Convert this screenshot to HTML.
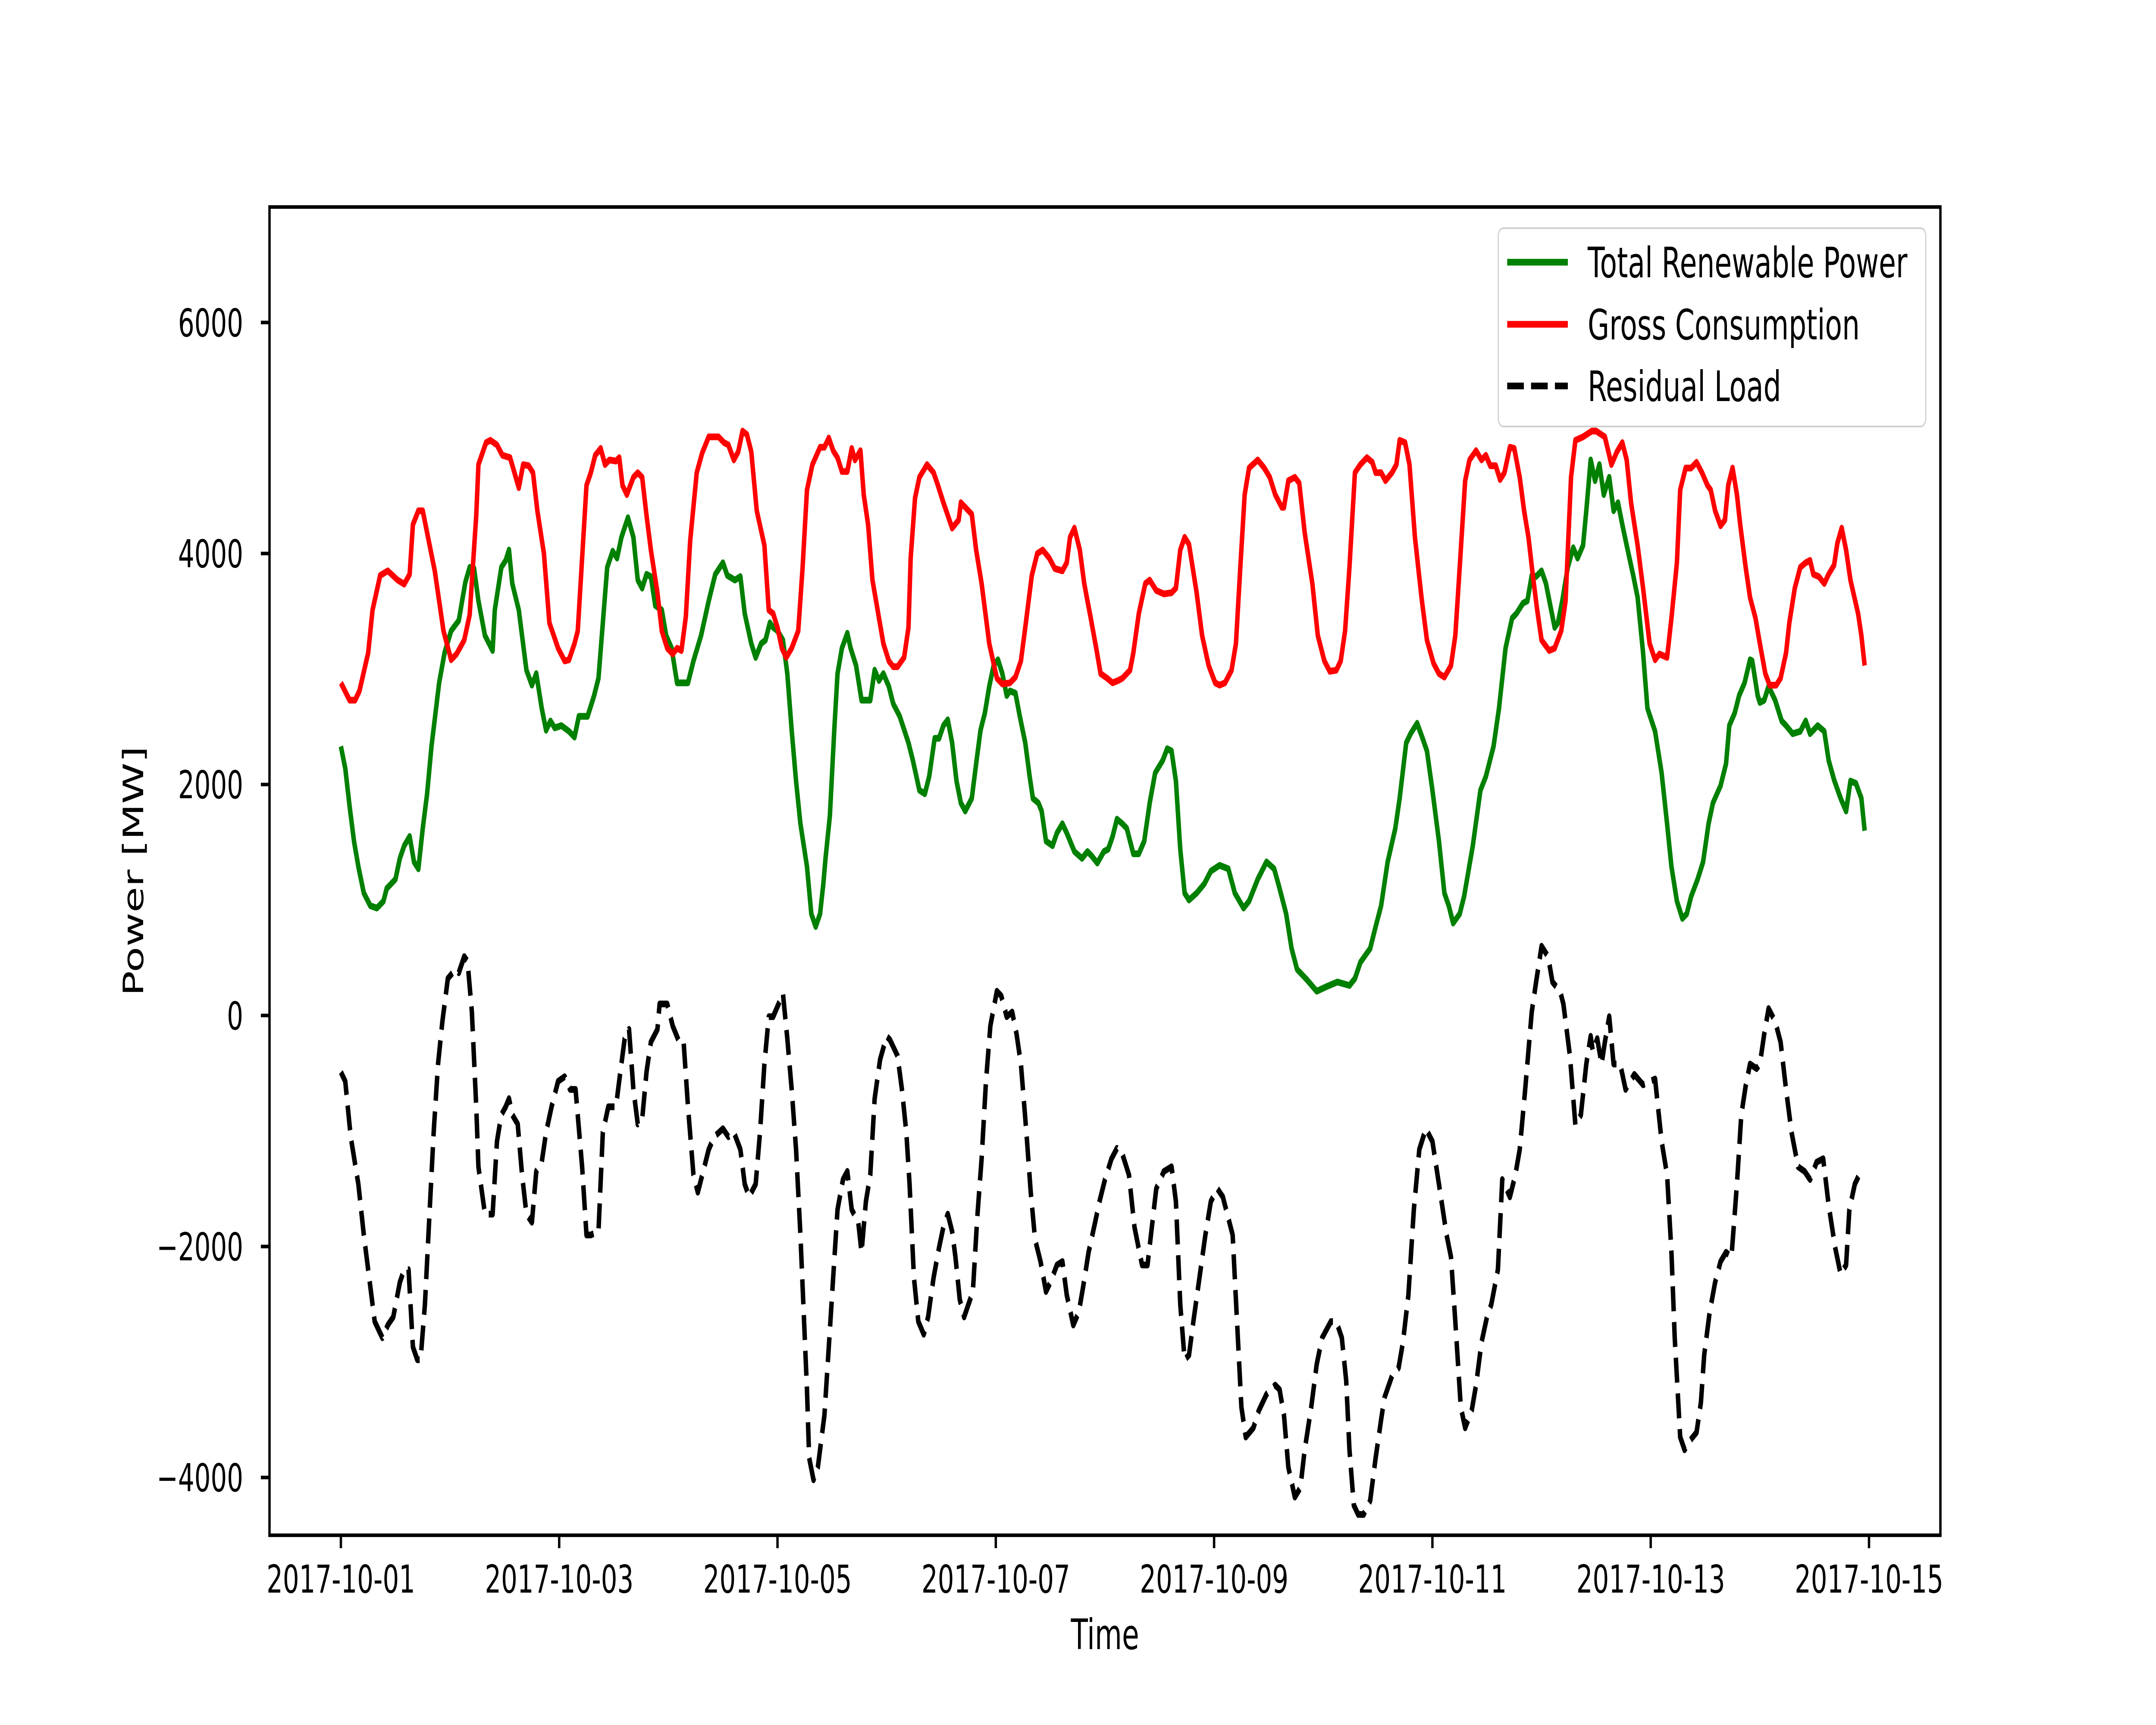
<!DOCTYPE html>
<html>
<head>
<meta charset="utf-8">
<meta name="viewport" content="width=device-width, initial-scale=1">
<style>
html,body{margin:0;padding:0;background:#fff;width:100%;height:100%;overflow:hidden;}
svg{display:block;width:100vw;height:100vh;font-family:"DejaVu Sans","Liberation Sans",sans-serif;}
</style>
</head>
<body>
<svg id="chart" viewBox="0 0 7500 4000" preserveAspectRatio="none" xmlns="http://www.w3.org/2000/svg">
  <rect x="0" y="0" width="7500" height="4000" fill="#ffffff"/>
  <defs><clipPath id="plotclip"><rect x="937.5" y="480" width="5812.5" height="3080"/></clipPath></defs>
  <g id="series" clip-path="url(#plotclip)"></g>
  <g id="xticks"></g>
  <g id="yticks"></g>
  <rect x="937.5" y="480" width="5812.5" height="3080" fill="none" stroke="#000" stroke-width="8.3"/>
  <text x="3844" y="3824" font-size="97" text-anchor="middle">Time</text>
  <text x="0" y="0" font-size="97" text-anchor="middle" dominant-baseline="central" transform="translate(465,2020) rotate(-90)">Power [MW]</text>
  <g>
    <rect x="5212" y="529" width="1487" height="460" rx="18" ry="18" fill="#ffffff" fill-opacity="0.8" stroke="#d0d0d0" stroke-width="4"/>
    <line x1="5243" y1="608" x2="5454" y2="608" stroke="#008000" stroke-width="15.6"/>
    <text x="5523" y="643" font-size="97">Total Renewable Power</text>
    <line x1="5243" y1="752" x2="5454" y2="752" stroke="#ff0000" stroke-width="15.6"/>
    <text x="5523" y="787" font-size="97">Gross Consumption</text>
    <line x1="5243" y1="895" x2="5454" y2="895" stroke="#000000" stroke-width="15.6" stroke-dasharray="58 25"/>
    <text x="5523" y="930" font-size="97">Residual Load</text>
  </g>
</svg>
<script>
const xTickDays = [0,2,4,6,8,10,12,14];
const xTickLabels = ["2017-10-01","2017-10-03","2017-10-05","2017-10-07","2017-10-09","2017-10-11","2017-10-13","2017-10-15"];
const yTickValues = [-4000,-2000,0,2000,4000,6000];
const yTickLabels = ["\u22124000","\u22122000","0","2000","4000","6000"];

const renewableTimes = [0,0.04,0.08,0.12,0.16,0.21,0.27,0.33,0.39,0.42,0.5,0.54,0.58,0.63,0.67,0.71,0.75,0.79,0.83,0.9,0.95,1.01,1.08,1.14,1.18,1.22,1.26,1.32,1.39,1.41,1.47,1.51,1.54,1.57,1.63,1.7,1.75,1.79,1.84,1.88,1.92,1.96,2.02,2.09,2.14,2.18,2.26,2.32,2.36,2.4,2.44,2.49,2.53,2.57,2.63,2.68,2.72,2.76,2.8,2.84,2.88,2.94,2.98,3.03,3.08,3.14,3.18,3.23,3.3,3.37,3.43,3.5,3.54,3.61,3.66,3.7,3.76,3.8,3.85,3.89,3.93,
3.96,4.0,4.05,4.09,4.13,4.17,4.21,4.27,4.31,4.35,4.39,4.42,4.44,4.48,4.52,4.55,4.59,4.64,4.67,4.72,4.77,4.85,4.89,4.93,4.97,5.02,5.06,5.12,5.2,5.24,5.3,5.35,5.39,5.44,5.48,5.52,5.56,5.6,5.64,5.68,5.72,5.78,5.82,5.86,5.9,5.94,5.98,6.02,6.06,6.1,6.13,6.18,6.22,6.27,6.31,6.34,6.39,6.42,6.46,6.52,6.56,6.61,6.65,6.72,6.79,6.84,6.88,6.93,6.99,7.03,7.07,7.11,7.16,7.2,7.26,7.31,7.36,7.41,7.46,7.53,7.57,7.61,7.65,7.69,7.73,7.77,7.84,7.91,7.97,
8.05,8.13,8.19,8.27,8.32,8.4,8.48,8.55,8.6,8.66,8.71,8.76,8.85,8.94,9.03,9.13,9.24,9.29,9.34,9.43,9.48,9.53,9.59,9.66,9.7,9.76,9.8,9.86,9.91,9.95,10.0,10.06,10.11,10.15,10.19,10.25,10.29,10.37,10.44,10.49,10.56,10.61,10.67,10.73,10.77,10.83,10.87,10.91,10.95,11.0,11.04,11.08,11.12,11.15,11.19,11.24,11.29,11.33,11.38,11.41,11.45,11.49,11.53,11.57,11.62,11.66,11.7,11.74,11.78,11.84,11.88,11.93,11.97,12.04,
12.1,12.15,12.19,12.24,12.29,12.33,12.37,12.43,12.48,12.53,12.57,12.64,12.69,12.72,12.77,12.81,12.86,12.91,12.93,12.98,13.0,13.04,13.08,13.14,13.2,13.24,13.3,13.37,13.42,13.46,13.53,13.59,13.63,13.68,13.74,13.79,13.83,13.88,13.93,13.96];
const renewableValues = [2330,2140,1810,1510,1290,1060,950,930,990,1100,1180,1360,1470,1550,1330,1270,1620,1920,2330,2880,3140,3330,3420,3750,3880,3870,3590,3290,3160,3510,3880,3940,4030,3740,3510,2990,2860,2960,2660,2470,2550,2490,2510,2460,2410,2590,2590,2770,2920,3400,3880,4020,3960,4140,4310,4140,3770,3700,3820,3800,3550,3510,3290,3180,2880,2880,2880,3070,3290,3590,3820,3920,3810,3770,3800,3480,3220,3100,3220,3250,3400,
3360,3330,3250,2960,2470,2030,1660,1290,880,770,880,1140,1360,1730,2470,2960,3180,3310,3180,3030,2730,2730,2990,2900,2960,2850,2700,2590,2360,2210,1950,1920,2070,2400,2400,2510,2560,2360,2030,1840,1770,1880,2180,2470,2620,2850,3030,3080,2960,2770,2810,2790,2590,2360,2070,1880,1840,1770,1510,1470,1580,1660,1580,1420,1360,1420,1380,1320,1420,1440,1550,1700,1660,1620,1400,1400,1510,1840,2100,2210,2310,2290,2030,1440,1060,1000,1060,1140,1250,
1300,1270,1060,930,990,1180,1330,1270,1100,880,580,400,310,210,250,290,260,320,460,580,770,950,1330,1620,1880,2360,2440,2530,2400,2290,1950,1510,1060,950,800,880,1030,1470,1950,2070,2330,2660,3180,3440,3480,3570,3590,3810,3800,3850,3740,3550,3360,3400,3590,3880,4050,3960,4070,4370,4810,4630,4770,4510,4660,4370,4440,4250,4070,3810,3620,3140,2660,2460,
2100,1660,1290,990,840,880,1030,1180,1330,1660,1840,1990,2180,2510,2620,2770,2880,3080,3070,2770,2710,2730,2850,2730,2550,2510,2440,2460,2550,2440,2510,2460,2210,2040,1880,1770,2030,2010,1880,1600];

const consumptionTimes = [0,0.08,0.13,0.17,0.25,0.29,0.36,0.43,0.52,0.58,0.63,0.66,0.71,0.75,0.79,0.86,0.9,0.94,1.01,1.06,1.13,1.18,1.24,1.26,1.33,1.37,1.43,1.48,1.55,1.63,1.67,1.72,1.76,1.8,1.86,1.91,1.99,2.05,2.09,2.14,2.17,2.21,2.25,2.29,2.33,2.38,2.42,2.46,2.52,2.55,2.58,2.62,2.68,2.72,2.76,2.8,2.84,2.9,2.94,2.99,3.04,3.08,3.12,3.16,3.2,3.26,3.31,3.37,3.46,3.51,3.55,3.6,3.64,3.68,3.72,3.76,3.81,3.88,3.92,
3.96,4.0,4.04,4.08,4.13,4.19,4.23,4.27,4.32,4.39,4.43,4.47,4.51,4.55,4.59,4.64,4.68,4.71,4.76,4.79,4.83,4.87,4.93,4.97,5.02,5.06,5.1,5.16,5.2,5.22,5.26,5.3,5.37,5.43,5.47,5.52,5.6,5.66,5.68,5.78,5.82,5.87,5.94,6.01,6.06,6.13,6.18,6.23,6.27,6.33,6.38,6.43,6.49,6.54,6.61,6.65,6.68,6.72,6.77,6.81,6.87,6.92,6.96,7.02,7.07,7.12,7.16,7.23,7.26,7.31,7.37,7.41,7.47,7.54,7.61,7.65,7.69,7.73,7.77,7.84,7.89,7.95,8.01,
8.05,8.1,8.16,8.2,8.24,8.28,8.32,8.4,8.46,8.51,8.56,8.62,8.64,8.68,8.74,8.78,8.83,8.9,8.95,9.01,9.06,9.12,9.16,9.2,9.24,9.29,9.34,9.4,9.45,9.48,9.53,9.57,9.63,9.67,9.7,9.75,9.79,9.84,9.9,9.95,10.01,10.06,10.11,10.17,10.21,10.25,10.3,10.34,10.4,10.45,10.49,10.53,10.58,10.62,10.66,10.71,10.75,10.8,10.84,10.88,10.92,10.96,11.0,11.07,11.12,11.18,11.22,11.27,11.31,11.38,11.46,11.5,11.58,11.64,11.69,11.74,11.78,11.82,11.88,11.93,11.99,12.04,12.08,
12.15,12.19,12.24,12.27,12.32,12.37,12.42,12.47,12.52,12.55,12.59,12.64,12.68,12.71,12.75,12.79,12.82,12.87,12.91,12.96,13.0,13.05,13.09,13.15,13.19,13.24,13.27,13.32,13.37,13.42,13.46,13.49,13.54,13.59,13.63,13.68,13.71,13.75,13.79,13.83,13.9,13.93,13.96];
const consumptionValues = [2880,2730,2730,2810,3140,3510,3810,3850,3770,3735,3820,4250,4370,4370,4180,3850,3590,3330,3080,3130,3250,3470,4330,4770,4960,4980,4940,4850,4830,4570,4770,4760,4700,4370,4000,3400,3180,3070,3080,3220,3330,3960,4590,4700,4850,4910,4770,4810,4800,4830,4590,4510,4660,4700,4660,4330,4030,3660,3330,3180,3130,3180,3160,3450,4110,4700,4870,5010,5010,4960,4940,4810,4880,5060,5030,4880,4370,4070,3510,
3480,3360,3180,3100,3180,3330,3880,4550,4770,4920,4920,5000,4890,4830,4710,4710,4910,4810,4890,4510,4250,3770,3440,3220,3070,3020,3020,3100,3360,3960,4480,4660,4770,4700,4590,4440,4220,4290,4440,4340,4030,3740,3220,2920,2870,2880,2930,3070,3360,3810,4000,4030,3960,3870,3850,3920,4140,4220,4030,3740,3440,3180,2960,2920,2880,2900,2920,2990,3140,3480,3740,3770,3680,3650,3660,3700,4030,4140,4080,3660,3290,3030,2880,
2860,2880,2990,3220,3880,4510,4740,4810,4740,4660,4510,4400,4400,4630,4660,4610,4180,3740,3290,3070,2980,2990,3070,3330,3880,4700,4770,4830,4790,4700,4700,4630,4700,4770,4980,4960,4770,4140,3620,3250,3050,2960,2930,3030,3290,3880,4630,4810,4890,4810,4850,4760,4760,4640,4700,4920,4910,4660,4370,4140,3810,3510,3250,3160,3180,3330,3590,4660,4980,5010,5060,5060,5010,4770,4880,4960,4810,4440,4070,3700,3220,3080,3130,
3100,3440,3920,4550,4740,4740,4790,4700,4590,4550,4370,4240,4290,4590,4740,4510,4250,3880,3620,3440,3220,2960,2860,2860,2920,3140,3400,3700,3880,3920,3940,3820,3800,3740,3820,3900,4090,4220,4030,3770,3480,3290,3030];

const residualTimes = [0,0.04,0.09,0.16,0.21,0.27,0.31,0.38,0.43,0.48,0.54,0.58,0.62,0.66,0.7,0.73,0.77,0.81,0.85,0.89,0.93,0.98,1.05,1.08,1.13,1.16,1.2,1.24,1.26,1.32,1.36,1.39,1.43,1.47,1.51,1.54,1.57,1.62,1.66,1.7,1.75,1.79,1.84,1.88,1.93,1.99,2.05,2.1,2.15,2.21,2.25,2.29,2.36,2.4,2.45,2.52,2.56,2.6,2.64,2.68,2.72,2.76,2.8,2.84,2.9,2.92,2.99,3.04,3.1,3.14,3.18,3.23,3.27,3.33,3.37,3.42,3.5,3.55,3.6,3.66,3.7,3.74,3.8,3.84,3.88,3.92,
3.96,4.01,4.05,4.09,4.13,4.17,4.21,4.24,4.27,4.29,4.33,4.37,4.43,4.47,4.51,4.55,4.6,4.64,4.68,4.74,4.77,4.81,4.85,4.89,4.94,5.0,5.03,5.1,5.14,5.18,5.21,5.25,5.29,5.34,5.38,5.43,5.48,5.52,5.56,5.6,5.63,5.67,5.71,5.75,5.79,5.83,5.87,5.91,5.95,6.01,6.05,6.1,6.15,6.19,6.23,6.28,6.32,6.36,6.41,6.46,6.5,6.56,6.61,6.65,6.71,6.76,6.8,6.85,6.91,6.95,7.0,7.06,7.11,7.16,7.22,7.27,7.34,7.39,7.43,7.47,7.54,7.61,7.65,7.69,7.73,7.77,7.81,7.86,7.92,7.97,8.03,
8.08,8.17,8.21,8.25,8.29,8.36,8.41,8.48,8.56,8.6,8.64,8.68,8.74,8.79,8.83,8.89,8.94,8.99,9.07,9.12,9.17,9.21,9.24,9.28,9.32,9.37,9.43,9.48,9.53,9.56,9.63,9.69,9.73,9.78,9.83,9.88,9.94,10.0,10.06,10.13,10.17,10.21,10.26,10.3,10.36,10.4,10.45,10.5,10.54,10.6,10.64,10.71,10.76,10.8,10.85,10.91,10.95,11.0,11.06,11.1,11.17,11.2,11.26,11.31,11.36,11.41,11.45,11.47,11.51,11.55,11.58,11.62,11.66,11.72,11.77,11.85,11.93,12.04,
12.1,12.15,12.19,12.22,12.27,12.31,12.36,12.42,12.46,12.49,12.54,12.59,12.64,12.69,12.74,12.79,12.83,12.87,12.91,12.97,13.0,13.04,13.08,13.14,13.19,13.24,13.29,13.35,13.41,13.46,13.52,13.58,13.63,13.69,13.74,13.79,13.82,13.87,13.91,13.96];
const residualValues = [-490,-570,-1050,-1460,-1900,-2350,-2650,-2790,-2680,-2610,-2310,-2200,-2200,-2870,-2980,-2980,-2500,-1750,-1010,-420,-50,320,400,370,510,470,30,-790,-1310,-1720,-1720,-1720,-1090,-860,-790,-720,-860,-940,-1380,-1720,-1790,-1350,-1270,-1010,-790,-570,-530,-640,-640,-1310,-1900,-1900,-1870,-1010,-790,-790,-490,-200,-120,-640,-940,-900,-490,-230,-120,100,100,-90,-230,-230,-790,-1380,-1530,-1310,-1160,-1050,-980,-1050,-1010,-1160,-1460,-1570,-1460,-1010,-420,-10,
-10,100,190,-200,-640,-1160,-1900,-2570,-3240,-3830,-4020,-3910,-3460,-2870,-2270,-1680,-1420,-1350,-1680,-1790,-2050,-1610,-1380,-720,-380,-180,-210,-350,-640,-1010,-1460,-2270,-2650,-2760,-2610,-2270,-2010,-1830,-1720,-1870,-2090,-2460,-2610,-2500,-2390,-1750,-1240,-570,-90,210,170,-10,30,-160,-420,-1010,-1530,-1940,-2130,-2390,-2310,-2160,-2130,-2420,-2680,-2570,-2350,-2050,-1790,-1610,-1420,-1240,-1150,-1200,-1380,-1830,-2160,-2160,-1830,-1500,-1350,-1310,-1610,-2500,-2980,-2940,-2650,-2310,-1900,-1610,-1500,
-1570,-1900,-2650,-3390,-3650,-3570,-3420,-3280,-3200,-3240,-3460,-3910,-4170,-4090,-3760,-3390,-3020,-2790,-2650,-2650,-2790,-3160,-3760,-4240,-4320,-4320,-4200,-3830,-3500,-3310,-3120,-3050,-2830,-2420,-1680,-1160,-980,-1090,-1460,-1900,-2090,-2650,-3390,-3570,-3420,-3200,-2830,-2610,-2500,-2200,-1420,-1570,-1380,-1160,-640,30,290,600,510,290,210,100,-350,-950,-860,-420,-180,-310,-200,-420,-230,-10,-420,-420,-640,-510,-600,-550,
-1090,-1380,-2050,-2790,-3650,-3760,-3680,-3610,-3350,-2940,-2570,-2310,-2130,-2050,-2090,-1460,-860,-610,-420,-460,-420,-160,60,-50,-230,-640,-1010,-1310,-1350,-1420,-1270,-1240,-1640,-2010,-2240,-2160,-1680,-1460,-1380,-1380];

const NS = "http://www.w3.org/2000/svg";
const AX_L = 937.5, AX_R = 6750, AX_T = 480, AX_B = 3560;
const X_MIN = -0.654, X_MAX = 14.654, Y_MIN = -4500, Y_MAX = 7000;
function xScale(d){ return AX_L + (d - X_MIN) / (X_MAX - X_MIN) * (AX_R - AX_L); }
function yScale(v){ return AX_T + (Y_MAX - v) / (Y_MAX - Y_MIN) * (AX_B - AX_T); }

function buildPath(times, values){
  const n = Math.min(times.length, values.length);
  let d = "";
  for (let i = 0; i < n; i++){
    d += (i === 0 ? "M" : "L") + xScale(times[i]).toFixed(1) + " " + yScale(values[i]).toFixed(1) + " ";
  }
  return d;
}

const seriesG = document.getElementById("series");

const pRen = document.createElementNS(NS, "path");


pRen.setAttribute("d", buildPath(renewableTimes, renewableValues));
pRen.setAttribute("fill", "none");
pRen.setAttribute("stroke", "#008000");
pRen.setAttribute("stroke-width", "15.6");
pRen.setAttribute("stroke-linejoin", "round");
seriesG.appendChild(pRen);

const pCons = document.createElementNS(NS, "path");


pCons.setAttribute("d", buildPath(consumptionTimes, consumptionValues));
pCons.setAttribute("fill", "none");
pCons.setAttribute("stroke", "#ff0000");
pCons.setAttribute("stroke-width", "15.6");
pCons.setAttribute("stroke-linejoin", "round");
seriesG.appendChild(pCons);

const pRes = document.createElementNS(NS, "path");


pRes.setAttribute("d", buildPath(residualTimes, residualValues));
pRes.setAttribute("fill", "none");
pRes.setAttribute("stroke", "#000000");
pRes.setAttribute("stroke-width", "15.6");
pRes.setAttribute("stroke-dasharray", "58 25");
pRes.setAttribute("stroke-linejoin", "round");
seriesG.appendChild(pRes);

const xg = document.getElementById("xticks");
for (let i = 0; i < xTickDays.length; i++){
  const x = xScale(xTickDays[i]);
  const t = document.createElementNS(NS, "line");
  
  
  t.setAttribute("x1", x); t.setAttribute("x2", x);
  t.setAttribute("y1", AX_B); t.setAttribute("y2", AX_B + 30);
  t.setAttribute("stroke", "#000"); t.setAttribute("stroke-width", "8.3");
  xg.appendChild(t);
  const lb = document.createElementNS(NS, "text");
  
  
  lb.setAttribute("x", x); lb.setAttribute("y", 3693);
  lb.setAttribute("font-size", "89");
  lb.setAttribute("text-anchor", "middle");
  lb.textContent = xTickLabels[i];
  xg.appendChild(lb);
}

const yg = document.getElementById("yticks");
for (let i = 0; i < yTickValues.length; i++){
  const y = yScale(yTickValues[i]);
  const t = document.createElementNS(NS, "line");
  
  
  t.setAttribute("x1", AX_L - 30); t.setAttribute("x2", AX_L);
  t.setAttribute("y1", y); t.setAttribute("y2", y);
  t.setAttribute("stroke", "#000"); t.setAttribute("stroke-width", "8.3");
  yg.appendChild(t);
  const lb = document.createElementNS(NS, "text");
  
  
  lb.setAttribute("x", 846); lb.setAttribute("y", y + 32);
  lb.setAttribute("font-size", "89");
  lb.setAttribute("text-anchor", "end");
  lb.textContent = yTickLabels[i];
  yg.appendChild(lb);
}
</script>
</body>
</html>
